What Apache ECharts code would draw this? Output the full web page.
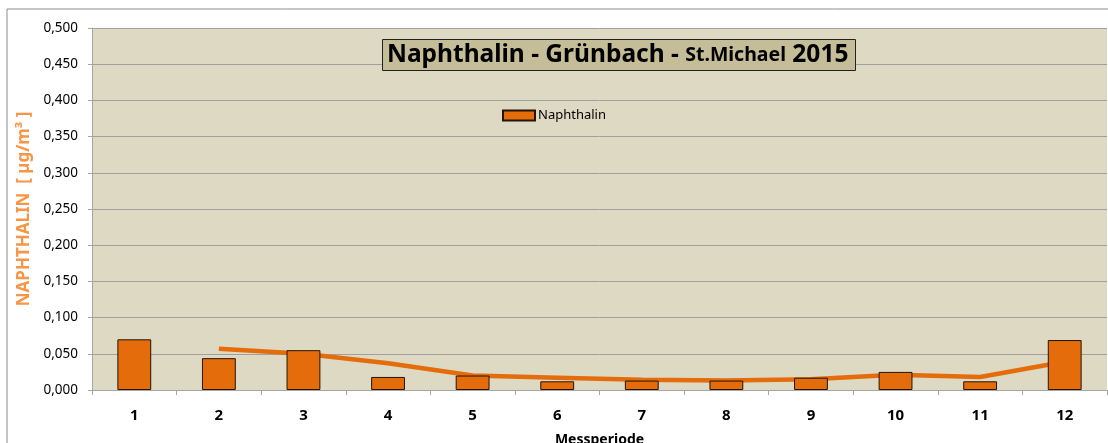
<!DOCTYPE html>
<html>
<head>
<meta charset="utf-8">
<script src="https://cdn.jsdelivr.net/npm/echarts@6/dist/echarts.min.js"></script>
<style>
  html, body { margin: 0; padding: 0; background: #fff; }
  #chart { width: 1108px; height: 443px; }
</style>
</head>
<body>
<div id="chart"></div>
<script>
// Messperioden und Messwerte (µg/m³)
var perioden = ['1', '2', '3', '4', '5', '6', '7', '8', '9', '10', '11', '12'];
var naphthalin = [0.070, 0.044, 0.055, 0.018, 0.020, 0.012, 0.013, 0.013, 0.017, 0.025, 0.012, 0.069];
var trend = [null, 0.057, 0.050, 0.037, 0.020, 0.017, 0.014, 0.013, 0.015, 0.021, 0.018, 0.039];
var yTicks = { min: 0, max: 0.5, interval: 0.05 };

var chart = echarts.init(document.getElementById('chart'));
var option = {
    animation: false,
    textStyle: { fontFamily: 'Noto Sans' },
    graphic: [{
        type: 'rect',
        shape: { x: 7, y: 9, width: 1120, height: 460 },
        style: { fill: 'none', stroke: '#8c8c8c', lineWidth: 1 },
        z: -10
    }],
    title: {
        left: 382,
        top: 39,
        text: '{a|Naphthalin - Grünbach - }{b|St.Michael}{a| 2015}',
        backgroundColor: '#C4BD97',
        borderColor: '#222',
        borderWidth: 1,
        padding: [4, 7, 3, 5],
        textStyle: {
            rich: {
                a: { fontSize: 24.5, fontWeight: 'bold', color: '#000', fontFamily: 'Noto Sans' },
                b: { fontSize: 19.5, fontWeight: 'bold', color: '#000', fontFamily: 'Noto Sans' }
            }
        }
    },
    legend: {
        left: 497,
        top: 104,
        data: [{ name: 'Naphthalin', icon: 'rect' }],
        itemWidth: 32,
        itemHeight: 10,
        itemGap: 4,
        textStyle: { fontSize: 13, color: '#000', padding: [0, 0, 0, -2] }
    },
    grid: {
        left: 92,
        top: 28,
        right: 1,
        bottom: 53,
        outerBoundsMode: 'none',
        show: true,
        backgroundColor: '#DDD9C3',
        borderWidth: 0
    },
    xAxis: {
        type: 'category',
        data: perioden,
        name: 'Messperiode',
        nameLocation: 'middle',
        nameGap: 43,
        nameTextStyle: { fontSize: 14, fontWeight: 'bold', color: '#000' },
        axisLine: { lineStyle: { color: '#a6a6a6', width: 1 } },
        axisTick: { show: true, length: 5, lineStyle: { color: '#a6a6a6' } },
        axisLabel: { fontSize: 15, fontWeight: 'bold', color: '#000', margin: 18 }
    },
    yAxis: {
        type: 'value',
        min: yTicks.min,
        max: yTicks.max,
        interval: yTicks.interval,
        name: 'NAPHTHALIN  [ µg/m³ ]',
        nameLocation: 'middle',
        nameGap: 54,
        nameTextStyle: { fontSize: 17, fontWeight: 'bold', color: '#F79646' },
        axisLine: { show: true, lineStyle: { color: '#a6a6a6' } },
        axisTick: { show: true, length: 4, lineStyle: { color: '#a6a6a6' } },
        splitLine: { lineStyle: { color: '#a0a0a0', width: 1 } },
        axisLabel: {
            fontSize: 13.5,
            color: '#000',
            margin: 14,
            formatter: function (v) { return v.toFixed(3).replace('.', ','); }
        }
    },
    series: [{
        name: 'Naphthalin',
        type: 'bar',
        data: naphthalin,
        barWidth: '40%',
        z: 3,
        itemStyle: { color: '#E46C0A', borderColor: '#231505', borderWidth: 1 }
    }, {
        name: 'Trend',
        type: 'line',
        data: trend,
        z: 2,
        symbol: 'none',
        lineStyle: { color: '#E46C0A', width: 4.5 }
    }]
};
chart.setOption(option);
</script>
</body>
</html>
